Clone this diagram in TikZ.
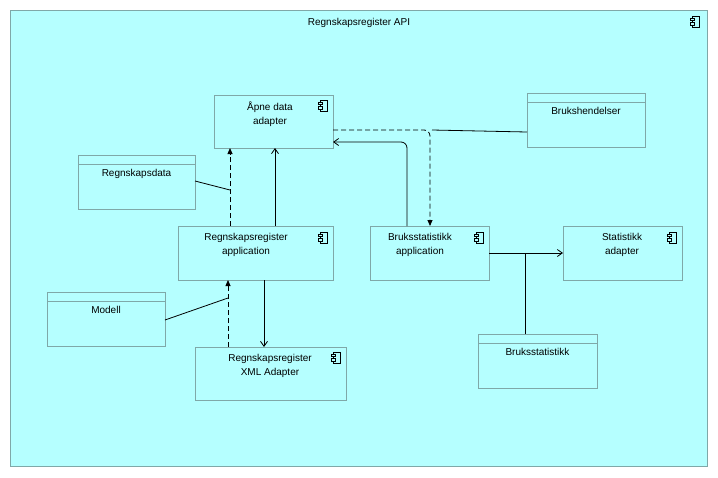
\documentclass[tikz,border=0pt]{standalone}
\usepackage{fontspec}
\setmainfont{Liberation Sans}
\usetikzlibrary{arrows.meta}
\definecolor{bg}{HTML}{B5FFFF}
\definecolor{bd}{HTML}{7FA8A8}
\begin{document}
\begin{tikzpicture}[x=1pt,y=-1pt,
  box/.style={draw=bd,fill=bg,minimum width=#1,minimum height=53,inner sep=0pt,anchor=north west},
  lbl/.style={font=\fontsize{10}{14}\selectfont,align=center},
  conn/.style={draw=black,line width=0.8pt},
  opentip/.style={-{Straight Barb[length=5pt,width=7pt]}},
  filltip/.style={-{Triangle[length=6pt,width=5pt]}},
  dsh/.style={dash pattern=on 5pt off 3pt}]
\useasboundingbox (0,0) rectangle (718,477);
\fill[white] (0,0) rectangle (718,477);
\node[draw=bd,fill=bg,minimum width=697,minimum height=456,inner sep=0pt,anchor=north west] (api) at (10,10) {};
\node[lbl,anchor=north] at (359,15) {Regnskapsregister API};
\newcommand\compicon[2]{%
 \draw[black,line width=0.6pt] (#1+2,#2) rectangle (#1+9,#2+11);
 \draw[black,line width=0.6pt,fill=bg] (#1,#2+2) rectangle (#1+4,#2+4.5);
 \draw[black,line width=0.6pt,fill=bg] (#1,#2+6.5) rectangle (#1+4,#2+9);}
\compicon{690}{16}
% components
\node[box=119] (apne) at (214,95) {};
\node[lbl,anchor=north] at (270,98) {Åpne data\\adapter};
\compicon{318}{100}
\node[box=155,minimum height=54] (rapp) at (178,226) {};
\node[lbl,anchor=north] at (246,230) {Regnskapsregister\\application};
\compicon{318}{232}
\node[box=119,minimum height=54] (bapp) at (370,226) {};
\node[lbl,anchor=north] at (420,230) {Bruksstatistikk\\application};
\compicon{474}{232}
\node[box=119,minimum height=54] (stat) at (563,226) {};
\node[lbl,anchor=north] at (622,230) {Statistikk\\adapter};
\compicon{667}{232}
\node[box=151] (xml) at (195,347) {};
\node[lbl,anchor=north] at (270,351) {Regnskapsregister\\XML Adapter};
\compicon{331}{352}
% data objects
\newcommand\dobj[5]{%
 \node[box=#4,minimum height=54] (#1) at (#2,#3) {};
 \draw[bd] (#2,#3+9) -- (#2+#4,#3+9);
 \node[lbl,anchor=north] at (#2+#4/2,#3+11) {#5};}
\dobj{rdata}{78}{155}{117}{Regnskapsdata}
\dobj{bhend}{527}{93}{118}{Brukshendelser}
\dobj{modell}{47}{292}{118}{Modell}
\dobj{bstat}{478}{334}{119}{Bruksstatistikk}
% connector points
\coordinate (rdE) at (195,181); \coordinate (rdJ) at (230,190);
\coordinate (bhW) at (527,132); \coordinate (bhJ) at (432,130);
\coordinate (moE) at (165,320); \coordinate (moJ) at (228,298);
\coordinate (bsN) at (525,334); \coordinate (bsJ) at (525,253);
% connectors
\draw[conn,dsh,filltip] (230,226) -- (230,148);
\draw[conn] (rdE) -- (rdJ);
\draw[conn,opentip] (275,226) -- (275,148);
\draw[conn,opentip,rounded corners=6pt] (407,226) -- (407,142) -- (333,142);
\draw[conn,dsh,filltip,rounded corners=6pt] (333,130) -- (430,130) -- (430,226);
\draw[conn] (bhW) -- (bhJ);
\draw[conn,opentip] (264,280) -- (264,347);
\draw[conn,dsh,filltip] (228,347) -- (228,280);
\draw[conn] (moE) -- (moJ);
\draw[conn,opentip] (489,253) -- (563,253);
\draw[conn] (bsN) -- (bsJ);
\end{tikzpicture}
\end{document}
